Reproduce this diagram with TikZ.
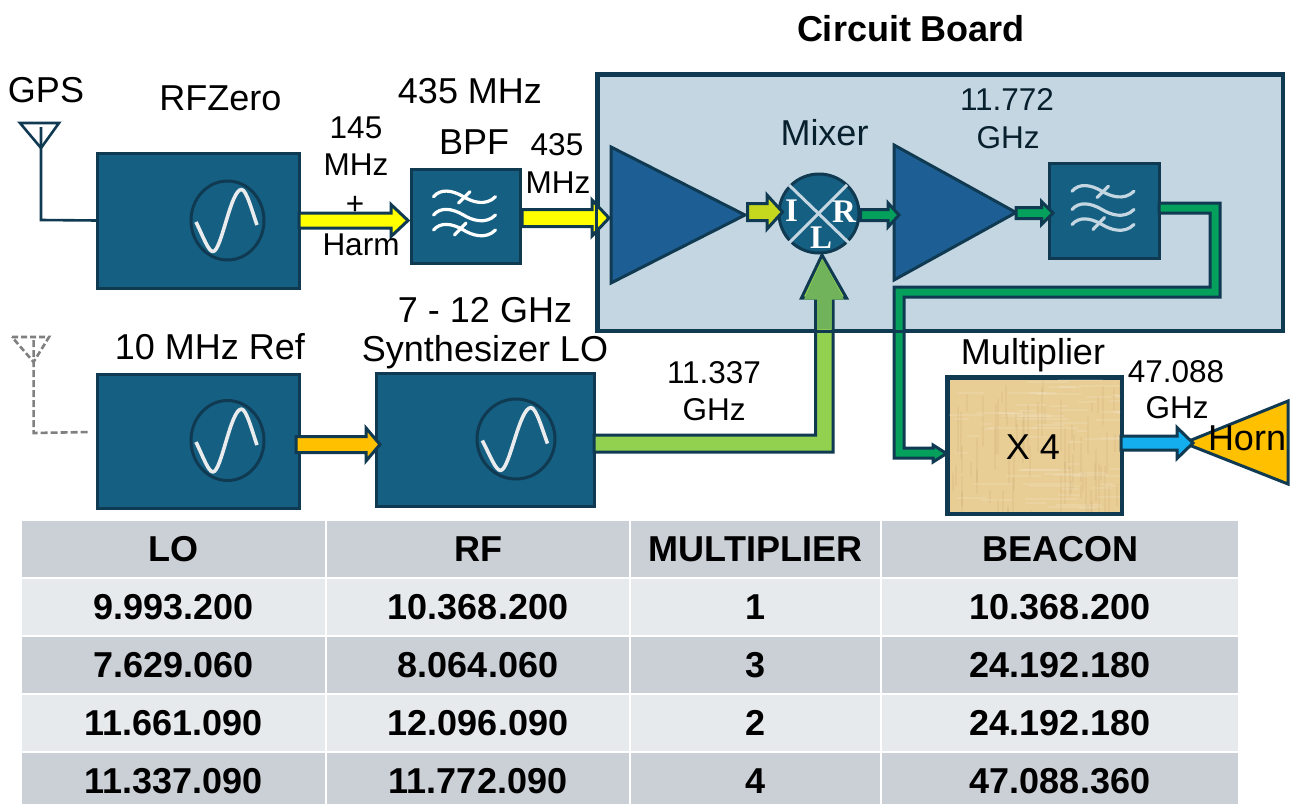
\documentclass[tikz,border=0pt]{standalone}
\usepackage{fontspec}
\setmainfont{Liberation Sans}
\newfontfamily\serifb{Liberation Serif}[BoldFont={Liberation Serif Bold}]
\usetikzlibrary{calc,shapes.geometric}
\definecolor{edgeC}{HTML}{0F3A52}
\definecolor{boxC}{HTML}{155F82}
\definecolor{ampC}{HTML}{1D5F94}
\definecolor{boardC}{HTML}{C3D6E1}
\definecolor{yelC}{HTML}{FFFF00}
\definecolor{limeC}{HTML}{C5D81E}
\definecolor{grnC}{HTML}{04A05C}
\definecolor{oraC}{HTML}{FFC000}
\definecolor{loC}{HTML}{92D050}
\definecolor{loDk}{HTML}{70B35A}
\definecolor{bluC}{HTML}{14AEEF}
\definecolor{papC}{HTML}{E8CD94}
\definecolor{rowD}{HTML}{CBCFD6}
\definecolor{rowL}{HTML}{E7EAED}
\definecolor{sineC}{HTML}{E9EBEC}
\newcommand\fbig{\fontsize{36}{40}\selectfont}
\newcommand\fsm{\fontsize{31.5}{36}\selectfont}
\newcommand\ftab{\fontsize{36}{40}\selectfont\bfseries}
\tikzset{
  x=1pt,y=-1pt,
  block/.style={draw=edgeC,line width=3pt,fill=boxC,inner sep=0pt,outer sep=0pt},
  amp/.style={draw=edgeC,line width=3pt,fill=ampC,line join=miter},
  barrow/.style={draw=edgeC,line width=3pt,line join=miter},
  lab/.style={inner sep=0pt,font=\fbig,text=black},
  labs/.style={inner sep=0pt,font=\fsm,text=black},
  labm/.style={inner sep=0pt,font=\fbig,text=edgeC!55!black},
  mixl/.style={inner sep=0pt,text=white,font=\serifb\fontsize{33}{36}\selectfont\bfseries},
  tcell/.style={inner sep=0pt,outer sep=0pt,font=\ftab,text=black,minimum height=56pt},
  sinew/.style={draw=sineC,line width=3.6pt,line join=round},
  wave/.style={line width=3.2pt,line cap=round},
}
% horizontal block arrow: colour, source, target, shaft half, head half, head length
\newcommand\blockh[6]{%
  \path let \p1=(#2),\p2=(#3) in
    [barrow,fill=#1] (\x1,\y1+#4) -- (\x2-#6,\y1+#4) -- (\x2-#6,\y1+#5) -- (\x2,\y1)
      -- (\x2-#6,\y1-#5) -- (\x2-#6,\y1-#4) -- (\x1,\y1-#4) -- cycle;}
\newcommand\oscil[3]{% name, rx, ry
  \draw[draw=edgeC,line width=3pt,fill=boxC] (#1) ellipse [x radius=#2,y radius=#3];
  \begin{scope}[shift={(#1)},xscale=#2/36.5,yscale=#3/39.5]
    \draw[sinew] (-31.5,1.5) .. controls (-24,17) and (-19,31) .. (-14.5,31)
      .. controls (-6,31) and (3,-31) .. (14,-31) .. controls (19,-31) and (25,-8) .. (29.5,4.5);
  \end{scope}}
\newcommand\filterglyph[2]{%
  \begin{scope}[shift={(#1)},draw=#2]
    \foreach \k in {-19.3,-1,14}{
      \draw[wave,yshift=-\k pt] (-32,0) .. controls (-25,-8) and (-14,-7) .. (-2,0) .. controls (6,5) and (20,10) .. (30,0);}
    \draw[wave] (4.5,-24.3) -- (-7,-13);
    \draw[wave] (0.5,7) -- (-11,19);
  \end{scope}}
\begin{document}
\begin{tikzpicture}
\clip (0,0) rectangle (1292,803);
\fill[white] (0,0) rectangle (1292,803);

% circuit board
\node[draw=edgeC,line width=3pt,fill=boardC,inner sep=0pt,minimum width=684pt,minimum height=255pt] (board) at (940,202.5) {};

% blocks
\node[block,minimum width=202pt,minimum height=135pt] (rfzero) at (198,220.5) {};
\node[block,minimum width=109pt,minimum height=94pt] (filtA) at (465.5,216) {};
\node[block,minimum width=202pt,minimum height=134pt] (refbox) at (198,441) {};
\node[block,minimum width=218pt,minimum height=133pt] (synth) at (485,439.5) {};
\node[block,minimum width=110pt,minimum height=95pt] (filtB) at (1104,210.5) {};

\coordinate (oscA) at (227.5,220.5);
\coordinate (oscB) at (227.5,440.5);
\coordinate (oscC) at (516,439);
\oscil{oscA}{36.5}{39.5}
\oscil{oscB}{36.5}{40}
\oscil{oscC}{39}{40}
\filterglyph{filtA.center}{white}
\filterglyph{filtB.center}{boardC}

% amplifiers
\draw[amp] (611,147) -- (745,215) -- (611,283) -- cycle;
\coordinate (ampAout) at (747.5,212);
\draw[amp] (894,145) -- (1016,212.5) -- (894,280) -- cycle;
\coordinate (ampBout) at (1016,213);

% mixer
\node[draw=edgeC,line width=3pt,fill=boxC,ellipse,inner sep=0pt,minimum width=80pt,minimum height=79pt] (mixer) at (819,213.5) {};
\draw[boardC,line width=3pt] (789,185) -- (849,243);
\draw[boardC,line width=3pt] (847,185) -- (789,243);
\node[mixl] (mI) at (791.5,211) {I};
\node[mixl] (mR) at (844,212) {R};
\node[mixl] (mL) at (821,238) {L};

% multiplier
\node[draw=edgeC,line width=3pt,fill=papC,inner sep=0pt,minimum width=173pt,minimum height=135pt] (mult) at (1034.5,445.5) {};
\begin{scope}
  \clip (949,379) rectangle (1120,512);
  \pgfmathsetseed{7}
  \foreach \i in {1,...,70}{
    \pgfmathsetmacro\xa{948+rnd*172}
    \pgfmathsetmacro\ya{378+rnd*134}
    \pgfmathsetmacro\ll{10+rnd*45}
    \draw[brown!70!black,opacity=.06,line width=2pt] (\xa,\ya) -- ++(0,\ll);
    \pgfmathsetmacro\xb{948+rnd*172}
    \pgfmathsetmacro\yb{378+rnd*134}
    \draw[white,opacity=.12,line width=2pt] (\xb,\yb) -- ++(\ll,0);
  }
\end{scope}
\draw[edgeC,line width=3pt] (mult.north west) rectangle (mult.south east);

% horn
\draw[draw=edgeC,line width=3pt,fill=oraC,line join=miter] (1184,443) -- (1288,401) -- (1288,484) -- cycle;
\coordinate (hornIn) at (1193,443);
\coordinate (multOut) at (1121,443);

% block arrows
\blockh{yelC}{rfzero.east}{[yshift=-.5pt]408,220}{7.5}{16}{17}
\blockh{yelC}{[xshift=2pt,yshift=-2pt]filtA.east}{609,218}{8.5}{18}{17}
\blockh{limeC}{ampAout}{782.5,212}{8.5}{17}{15.5}
\blockh{grnC}{[yshift=-1.5pt]mixer.east}{899,212}{5.5}{12}{11}
\blockh{grnC}{ampBout}{1053,213}{5.5}{11.5}{11.5}
\blockh{oraC}{[yshift=-3.5pt,xshift=-3pt]refbox.east}{380,437}{8}{16.5}{14}
\blockh{bluC}{multOut}{hornIn}{7}{15.5}{16}

% LO arrow
\path let \p1=(synth.east),\p2=(mixer.south) in
  [barrow,fill=loC]
  (\x1,435) -- (815.5,435) -- (815.5,298) -- (801.5,298) -- (\x2+3pt,255) -- (846.5,298) -- (833,298) -- (833,452) -- (\x1,452) -- cycle;
\fill[loDk] (817,329) -- (817,299.5) -- (804,299.5) -- (822.5,259) -- (844,299.5) -- (831.5,299.5) -- (831.5,329) -- cycle;

% green feed to the multiplier
\path let \p1=(filtB.east),\p2=(mult.west) in
  [barrow,fill=grnC]
  (\x1,203) -- (1220,203) -- (1220,297) -- (904,297) -- (904,448) -- (933,448) -- (933,445)
  -- (\x2,453.5) -- (933,462) -- (933,458) -- (894,458) -- (894,287) -- (1210,287) -- (1210,213) -- (\x1,213) -- cycle;

% board edge over arrows
\draw[edgeC,line width=3pt] (board.north west) rectangle (board.south east);

% antennas
\coordinate (antA) at (41,148);
\draw[edgeC,line width=2.6pt,line join=miter] (20,123) -- (59,123) -- (antA) -- cycle;
\draw[edgeC,line width=2.6pt] (41,127) -- (41,220) -- (rfzero.west);
\coordinate (antB) at (33.6,362);
\coordinate (antBend) at (90,432);
\draw[gray,line width=2.6pt,dash pattern=on 6pt off 3pt] (12,337) -- (49,337) -- (antB) -- cycle;
\draw[gray,line width=2.6pt,dash pattern=on 7pt off 3pt] (33.6,340) -- (33.6,433) -- (antBend);

% labels
\node[inner sep=0pt,font=\fontsize{36}{40}\selectfont\bfseries] (title) at (911,29) {Circuit Board};
\node[lab] (tGPS) at (46,90) {GPS};
\node[lab] (tRFZ) at (220.5,98) {RFZero};
\node[lab] (t435) at (470,91) {435 MHz};
\node[lab] (tBPF) at (474,142) {BPF};
\node[labs] (t145) at (356,128) {145};
\node[labs] (tMHz) at (356,165) {MHz};
\node[labs] (tplus) at (355,205) {+};
\node[labs] (tHarm) at (361,245) {Harm};
\node[labs] (t435b) at (557,145) {435};
\node[labs] (tMHzb) at (558,183) {MHz};
\node[labm] (tMix) at (824.5,133) {Mixer};
\node[labs,text=edgeC!55!black] (t11a) at (1007,100) {11.772};
\node[labs,text=edgeC!55!black] (tGa) at (1008,138) {GHz};
\node[lab] (tRef) at (210,347) {10 MHz Ref};
\node[lab] (t7) at (485,310) {7 - 12 GHz};
\node[lab] (tSyn) at (485,352) {Synthesizer LO};
\node[labs] (t11b) at (714,373) {11.337};
\node[labs] (tGb) at (714,410) {GHz};
\node[lab] (tMul) at (1033,355) {Multiplier};
\node[labs] (t47) at (1176,372) {47.088};
\node[labs] (tGc) at (1177,408) {GHz};
\node[lab] (tHorn) at (1247,438) {Horn};
\node[lab] (tX) at (1033,447) {X 4};

% table
\foreach \yy/\cc/\a/\b/\c/\d/\r in {
  549/rowD/LO/RF/MULTIPLIER/BEACON/0,
  607/rowL/9.993.200/10.368.200/1/10.368.200/1,
  665/rowD/7.629.060/8.064.060/3/24.192.180/2,
  723/rowL/11.661.090/12.096.090/2/24.192.180/3,
  781/rowD/11.337.090/11.772.090/4/47.088.360/4}{
  \node[tcell,fill=\cc,minimum width=303pt] (c\r a) at (173.5,\yy) {\a};
  \node[tcell,fill=\cc,minimum width=302pt] (c\r b) at (478,\yy) {\b};
  \node[tcell,fill=\cc,minimum width=249pt] (c\r c) at (755.5,\yy) {\c};
  \node[tcell,fill=\cc,minimum width=356pt] (c\r d) at (1060,\yy) {\d};
}
\end{tikzpicture}
\end{document}
